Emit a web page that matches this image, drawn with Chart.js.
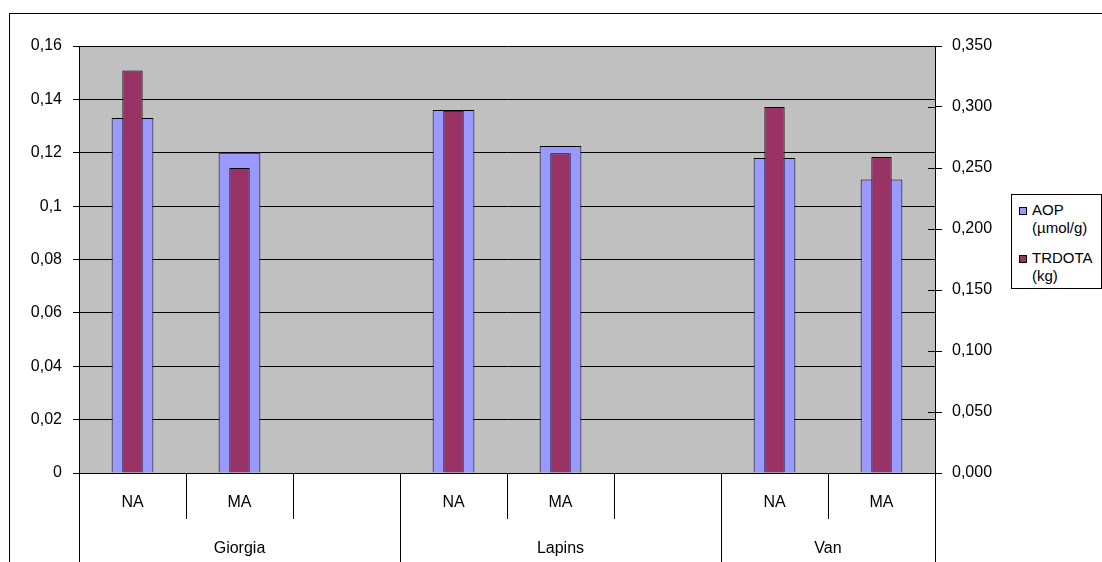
<!DOCTYPE html>
<html>
<head>
<meta charset="utf-8">
<script src="https://cdn.jsdelivr.net/npm/chart.js@4"></script>
<style>
  html, body { margin:0; padding:0; background:#fff; overflow:hidden; }
  #wrap { position:relative; width:1102px; height:562px; font-family:"Liberation Sans", Arial, sans-serif; }
  #frame { position:absolute; left:9px; top:13px; width:1200px; height:700px; border:1px solid #000; box-sizing:border-box; }
  #c { position:absolute; left:0; top:0; }
  #legend { position:absolute; left:1011px; top:194px; width:91px; height:95px; border:1px solid #000; box-sizing:border-box; background:#fff; font-size:15px; color:#000; }
  .item { position:absolute; left:20px; line-height:18px; white-space:nowrap; }
  .mk { position:absolute; left:-13px; top:6px; width:8px; height:8px; border:1px solid #000; box-sizing:border-box; }
</style>
</head>
<body>
<div id="wrap">
  <div id="frame"></div>
  <canvas id="c" width="1102" height="562"></canvas>
  <div id="legend"></div>
</div>
<script>
const categories = ['NA', 'MA', '', 'NA', 'MA', '', 'NA', 'MA'];
const groups = ['Giorgia', 'Lapins', 'Van'];
const groupSizes = [3, 3, 2];
const aopValues = [0.133, 0.120, null, 0.136, 0.1225, null, 0.118, 0.110];
const trdotaValues = [0.330, 0.250, null, 0.297, 0.262, null, 0.300, 0.259];
const seriesNames = [['AOP', '(µmol/g)'], ['TRDOTA', '(kg)']];
const leftTicks = { min: 0, max: 0.16, step: 0.02 };
const rightTicks = { min: 0, max: 0.35, step: 0.05 };

const colors = ['#9999FF', '#993366'];

// HTML legend
const leg = document.getElementById('legend');
const tops = [6, 54];
seriesNames.forEach((lines, i) => {
  const d = document.createElement('div');
  d.className = 'item';
  d.style.top = tops[i] + 'px';
  const m = document.createElement('span');
  m.className = 'mk';
  m.style.background = colors[i];
  d.appendChild(m);
  d.appendChild(document.createTextNode(lines[0]));
  d.appendChild(document.createElement('br'));
  d.appendChild(document.createTextNode(lines[1]));
  leg.appendChild(d);
});

const FONT = { family: '"Liberation Sans", Arial, sans-serif', size: 16 };

const decor = {
  id: 'decor',
  beforeDraw(chart) {
    const a = chart.chartArea, ctx = chart.ctx;
    ctx.save();
    ctx.fillStyle = '#C0C0C0';
    ctx.fillRect(a.left, a.top, a.right - a.left, a.bottom - a.top);
    ctx.restore();
  },
  afterDraw(chart) {
    const a = chart.chartArea, ctx = chart.ctx;
    const n = categories.length;
    const w = (a.right - a.left) / n;
    ctx.save();
    ctx.strokeStyle = '#000';
    ctx.lineWidth = 1;
    const groupIdx = [0];
    let acc = 0;
    groupSizes.forEach(s => { acc += s; groupIdx.push(acc); });
    for (let i = 0; i <= n; i++) {
      const x = Math.round(a.left + i * w) + 0.5;
      const isGroup = groupIdx.includes(i);
      ctx.beginPath();
      ctx.moveTo(x, a.bottom);
      ctx.lineTo(x, isGroup ? 562 : 519);
      ctx.stroke();
    }
    const y1 = chart.scales.y1;
    y1.ticks.forEach(t => {
      const y = Math.round(y1.getPixelForValue(t.value)) + 0.5;
      ctx.beginPath();
      ctx.moveTo(a.right - 7, y);
      ctx.lineTo(a.right, y);
      ctx.stroke();
    });
    ctx.fillStyle = '#000';
    ctx.font = '16px "Liberation Sans", Arial, sans-serif';
    ctx.textAlign = 'center';
    ctx.textBaseline = 'middle';
    let start = 0;
    groups.forEach((g, gi) => {
      const end = start + groupSizes[gi];
      const cx = a.left + (start + end) / 2 * w;
      ctx.fillText(g, cx, 549);
      start = end;
    });
    ctx.restore();
  }
};

new Chart(document.getElementById('c'), {
  type: 'bar',
  data: {
    labels: categories,
    datasets: [
      {
        label: seriesNames[0].join(' '),
        data: aopValues,
        yAxisID: 'y',
        backgroundColor: colors[0],
        borderColor: '#000',
        borderWidth: 1,
        barPercentage: 0.39,
        categoryPercentage: 1,
        grouped: false,
        order: 2
      },
      {
        label: seriesNames[1].join(' '),
        data: trdotaValues,
        yAxisID: 'y1',
        backgroundColor: colors[1],
        borderColor: '#000',
        borderWidth: 1,
        barPercentage: 0.19,
        categoryPercentage: 1,
        grouped: false,
        order: 1
      }
    ]
  },
  options: {
    responsive: false,
    animation: false,
    devicePixelRatio: 1,
    layout: { padding: { top: 46, left: 0, right: 0, bottom: 0 } },
    plugins: { legend: { display: false }, tooltip: { enabled: false } },
    scales: {
      x: {
        position: 'bottom',
        grid: { display: false, drawTicks: false },
        border: { display: true, color: '#000', width: 1 },
        ticks: { color: '#000', font: FONT, padding: 20, maxRotation: 0, autoSkip: false },
        afterFit(s) { s.height = 89; }
      },
      y: {
        position: 'left',
        min: leftTicks.min, max: leftTicks.max,
        ticks: {
          stepSize: leftTicks.step, color: '#000', font: FONT, padding: 11,
          callback: v => String(Number(v.toFixed(2))).replace('.', ',')
        },
        grid: { color: '#000', lineWidth: 1, tickLength: 6, drawTicks: true },
        border: { display: true, color: '#000', width: 1 },
        afterFit(s) { s.width = 79; }
      },
      y1: {
        position: 'right',
        min: rightTicks.min, max: rightTicks.max,
        ticks: {
          stepSize: rightTicks.step, color: '#000', font: FONT, padding: 10,
          callback: v => v.toFixed(3).replace('.', ',')
        },
        grid: { drawOnChartArea: false, color: '#000', tickLength: 7 },
        border: { display: true, color: '#000', width: 1 },
        afterFit(s) { s.width = 167; }
      }
    }
  },
  plugins: [decor]
});
</script>
</body>
</html>
